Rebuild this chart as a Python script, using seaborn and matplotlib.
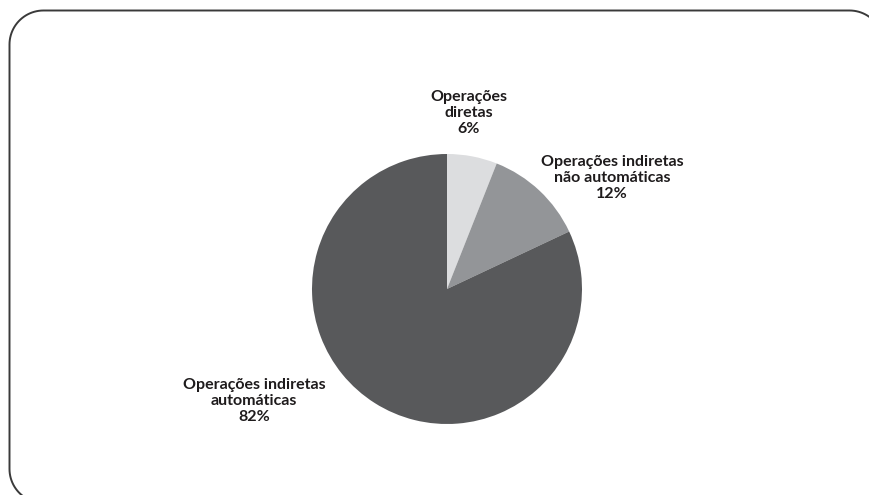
import matplotlib
matplotlib.use("Agg")
import matplotlib.pyplot as plt
from matplotlib.patches import PathPatch
from matplotlib.path import Path
import numpy as np
import seaborn as sns

categories = ["Operações\ndiretas", "Operações indiretas\nnão automáticas", "Operações indiretas\nautomáticas"]
shares = [6, 12, 82]
colors = ["#dcdddf", "#939598", "#58595b"]

sns.set_theme(style="white")
plt.rcParams["font.family"] = ["Lato", "DejaVu Sans"]

W, H = 869, 495
fig = plt.figure(figsize=(W / 100, H / 100), dpi=100)
fig.patch.set_facecolor("white")

# full-figure overlay axes in pixel units (origin bottom-left) for frame and labels
bg = fig.add_axes([0, 0, 1, 1])
bg.set_xlim(0, W)
bg.set_ylim(0, H)
bg.axis("off")


def rounded_rect(x0, y0, x1, y1, rad, n=24):
    pts = []
    corners = [(x1 - rad, y1 - rad, 0), (x0 + rad, y1 - rad, 90),
               (x0 + rad, y0 + rad, 180), (x1 - rad, y0 + rad, 270)]
    for ccx, ccy, a0 in corners:
        t = np.radians(np.linspace(a0, a0 + 90, n))
        pts.extend(zip(ccx + rad * np.cos(t), ccy + rad * np.sin(t)))
    pts.append(pts[0])
    return Path(pts)


frame = PathPatch(rounded_rect(9.5, -8, 883.5, H - 10.5, 34),
                  facecolor="none", edgecolor="#3a3a3a", linewidth=1.4, clip_on=False)
bg.add_patch(frame)

# pie axes: centre at (447, 289) px from top, radius 135 px
cx, cy, r = 447, 289, 135
ax = fig.add_axes([(cx - r) / W, (H - cy - r) / H, 2 * r / W, 2 * r / H])
ax.pie(shares, colors=colors, startangle=90, counterclock=False,
       wedgeprops=dict(linewidth=0))
ax.set_xlim(-1, 1)
ax.set_ylim(-1, 1)
ax.set_aspect("equal")
ax.axis("off")

label_pos = [(469, 113), (612, 178), (254, 401)]
for cat, val, (x, y) in zip(categories, shares, label_pos):
    bg.text(x, H - y, f"{cat}\n{val}%", ha="center", va="center", fontsize=11.5,
            fontweight="bold", color="#1e1b1c", linespacing=1.17)

fig.savefig("out.png", dpi=100)
